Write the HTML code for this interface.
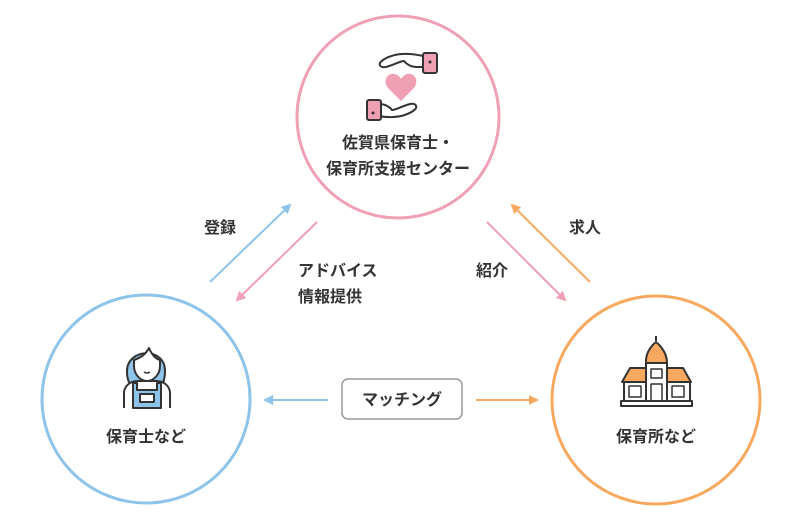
<!DOCTYPE html>
<html><head><meta charset="utf-8"><style>
body{margin:0;background:#fff;}
svg text{font-family:"Liberation Sans","Noto Sans CJK JP",sans-serif;font-weight:bold;fill:#333;font-size:16px;}
</style></head><body>
<svg width="800" height="520" viewBox="0 0 800 520" xmlns="http://www.w3.org/2000/svg">
<defs>
<marker id="ab" markerWidth="10" markerHeight="10" refX="8" refY="5" orient="auto" markerUnits="userSpaceOnUse"><path d="M0,0 L10,5 L0,10 Z" fill="#8ec4ea"/></marker>
<marker id="ap" markerWidth="10" markerHeight="10" refX="8" refY="5" orient="auto" markerUnits="userSpaceOnUse"><path d="M0,0 L10,5 L0,10 Z" fill="#f0a0b5"/></marker>
<marker id="ao" markerWidth="10" markerHeight="10" refX="8" refY="5" orient="auto" markerUnits="userSpaceOnUse"><path d="M0,0 L10,5 L0,10 Z" fill="#f9a95f"/></marker>
</defs>
<circle cx="398" cy="117" r="101" fill="#fff" stroke="#f0a0b5" stroke-width="3"/>
<circle cx="146" cy="399" r="104" fill="#fff" stroke="#8ec4ea" stroke-width="3"/>
<circle cx="656" cy="400" r="104" fill="#fff" stroke="#f9a95f" stroke-width="3"/>
<!-- hands & heart -->
<g stroke="#333" stroke-width="2" stroke-linejoin="round" stroke-linecap="round">
<path d="M423,56 C405,52 392,54 383,60 C377,64 380,68 386,67 C394,65 400,61 404,61 C410,68 416,67 423,67" fill="#fff"/>
<rect x="423" y="53" width="14" height="20" rx="2" fill="#f0a0b5"/>
<path d="M373,115 C391,119 404,117 413,111 C419,107 416,103 410,104 C402,106 396,110 392,110 C386,103 380,104 373,104" fill="#fff"/>
<rect x="367" y="100" width="14" height="20" rx="2" fill="#f0a0b5"/>
</g>
<circle cx="430" cy="62" r="1.5" fill="#333"/><circle cx="373" cy="113" r="1.5" fill="#333"/>
<path d="M401,101 L389,89 C382,82 387,72 395,74 C398,75 400,77 401,79 C402,77 404,75 407,74 C415,72 420,82 413,89 Z" fill="#f0a0b5"/>
<text x="398" y="148" text-anchor="middle">佐賀県保育士・</text>
<text x="398" y="174" text-anchor="middle">保育所支援センター</text>
<!-- person -->
<g stroke="#333" stroke-width="2" stroke-linejoin="round">
<path d="M158,368 C164,378 166,385 160,392" fill="none"/>
<path d="M127,372 C126,348 166,346 165,372 C165,380 162,385 160,388 L133,388 C129,384 127,378 127,372 Z" fill="#8ec4ea"/>
<path d="M134,360 C140,358 146,354 149,348 C152,355 156,359 160,360 L160,366 C160,374 154,381 147,381 C140,381 134,374 134,366 Z" fill="#fff"/>
<path d="M124,408 L124,392 C125,385 131,381 138,381 L156,381 C163,381 169,385 170,392 L170,408" fill="#fff"/>
<path d="M133,408 L133,383 L137,383 L137,390 L157,390 L157,383 L161,383 L161,408 Z" fill="#8ec4ea"/>
<rect x="140" y="394" width="14" height="8" fill="#fff"/>
</g>
<path d="M144,372 Q147,374 150,372" stroke="#333" stroke-width="1.5" fill="none"/>
<text x="146" y="442" text-anchor="middle">保育士など</text>
<!-- building -->
<g stroke="#333" stroke-width="2" stroke-linejoin="round">
<line x1="656" y1="336" x2="656" y2="341"/>
<path d="M646,363 C645,350 656,342 656,342 C656,342 667,350 667,363 Z" fill="#f9a95f"/>
<path d="M622,382 L630,368 L646,368 L646,382 Z M667,368 L683,368 L691,382 L667,382 Z" fill="#f9a95f"/>
<rect x="646" y="363" width="21" height="39" fill="#fff"/>
<rect x="624" y="382" width="22" height="20" fill="#fff"/><rect x="667" y="382" width="23" height="20" fill="#fff"/>
<rect x="621" y="401" width="71" height="5" fill="#fff"/>
<rect x="651" y="369" width="11" height="9" fill="none" stroke-width="1.5"/>
<rect x="651" y="384" width="11" height="17" fill="none" stroke-width="1.5"/>
<rect x="629" y="386" width="12" height="11" fill="none" stroke-width="1.5"/>
<rect x="672" y="386" width="12" height="11" fill="none" stroke-width="1.5"/>
</g>
<text x="656" y="442" text-anchor="middle">保育所など</text>
<!-- arrows -->
<line x1="210" y1="282" x2="290" y2="205" stroke="#8ec4ea" stroke-width="2" marker-end="url(#ab)"/>
<line x1="317" y1="222" x2="237" y2="300" stroke="#f0a0b5" stroke-width="2" marker-end="url(#ap)"/>
<line x1="487" y1="222" x2="565" y2="300" stroke="#f0a0b5" stroke-width="2" marker-end="url(#ap)"/>
<line x1="590" y1="282" x2="512" y2="205" stroke="#f9a95f" stroke-width="2" marker-end="url(#ao)"/>
<line x1="328" y1="400" x2="265" y2="400" stroke="#8ec4ea" stroke-width="2" marker-end="url(#ab)"/>
<line x1="476" y1="400" x2="537" y2="400" stroke="#f9a95f" stroke-width="2" marker-end="url(#ao)"/>
<rect x="342" y="379" width="120" height="40" rx="6" fill="#fff" stroke="#999" stroke-width="1.5"/>
<text x="402" y="405" text-anchor="middle">マッチング</text>
<text x="220" y="233" text-anchor="middle">登録</text>
<text x="298" y="276">アドバイス</text>
<text x="298" y="302">情報提供</text>
<text x="492" y="276" text-anchor="middle">紹介</text>
<text x="585" y="233" text-anchor="middle">求人</text>
</svg>
</body></html>
